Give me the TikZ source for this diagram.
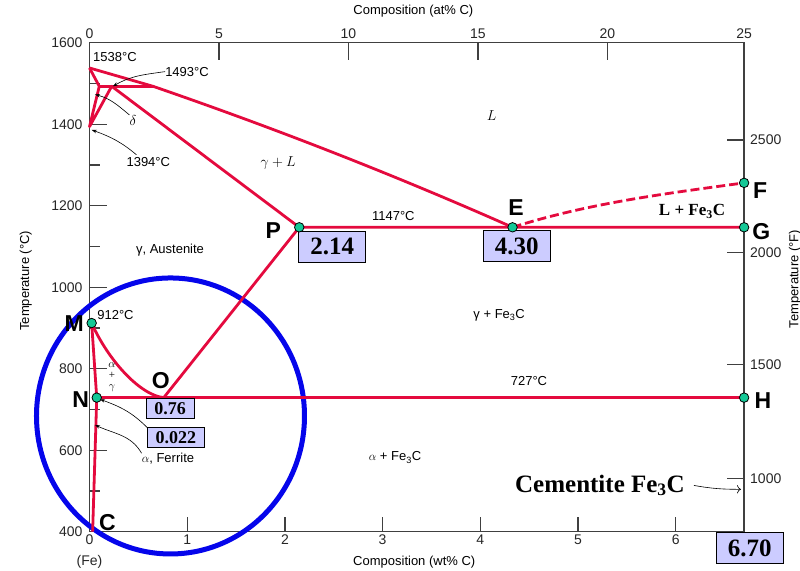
\documentclass[tikz,border=0pt]{standalone}
\usepackage{fontspec}
\setmainfont{Liberation Serif}
\setsansfont{Liberation Sans}
\usetikzlibrary{arrows.meta, positioning}
\definecolor{phasered}{RGB}{228, 10, 62}
\definecolor{ringblue}{RGB}{5, 5, 235}
\definecolor{boxlilac}{RGB}{204, 204, 255}
\definecolor{dotgreen}{RGB}{20, 200, 150}
\definecolor{axisgray}{RGB}{64, 64, 64}

\begin{document}
\begin{tikzpicture}[
  phase/.style={phasered, line width=2.8pt, line join=round},
  ptdot/.style={circle, draw=black, fill=dotgreen, line width=0.8pt, minimum size=9.5pt, inner sep=0pt},
  bigletter/.style={font=\sffamily\bfseries\fontsize{23}{23}\selectfont, inner sep=0pt},
  valbox/.style={draw=black, fill=boxlilac, line width=0.9pt, inner sep=0pt, minimum width=67pt, minimum height=31pt, font=\bfseries\fontsize{25}{25}\selectfont},
  smallbox/.style={valbox, minimum width=48pt, minimum height=19.5pt, font=\bfseries\fontsize{18}{18}\selectfont},
  lbl/.style={font=\sffamily\fontsize{13}{13}\selectfont, inner sep=0pt},
  mathlbl/.style={lbl, font=\sffamily\fontsize{15}{15}\selectfont},
  ticklbl/.style={font=\sffamily\fontsize{14}{14}\selectfont, inner sep=1pt, text=black!85},
  axisline/.style={axisgray, line width=1.3pt},
  note/.style={black, line width=0.6pt, -{Stealth[length=5pt, width=3.5pt]}},
]
\useasboundingbox (0,0) rectangle (800pt,570pt);
\begin{scope}[x=97.7pt, y=0.4075pt, shift={(89.5pt,-124.7pt)}]
  % Frame and ticks
  \draw[axisline] (0,400) rectangle (6.7,1600);
  \foreach \tc in {600,800,...,1400} \draw[axisline] (0,\tc) -- ++(17pt,0);
  \foreach \tc in {500,700,...,1500} \draw[axisline] (0,\tc) -- ++(10pt,0);
  \foreach \tc in {400,600,...,1600} \node[ticklbl, anchor=east] (yl\tc) at (-0.06,\tc) {\tc};
  \foreach \w in {1,...,6} \draw[axisline] (\w,400) -- ++(0,15pt);
  \foreach \w in {0,...,6} \node[ticklbl, anchor=north] (xl\w) at (\w,395) {\w};
  \foreach \a/\w in {5/1.325, 10/2.65, 15/3.975, 20/5.3} \draw[axisline] (\w,1600) -- ++(0,-17pt);
  \foreach \a/\w in {0/0, 5/1.325, 10/2.65, 15/3.975, 20/5.3, 25/6.7} \node[ticklbl, anchor=south] (al\a) at (\w,1608) {\a};
  \foreach \tc in {1361,1085,811,531} \draw[axisline] (6.7,\tc) -- ++(-17pt,0);
  \foreach \tc/\f in {1361/2500, 1085/2000, 811/1500, 531/1000} \node[ticklbl, anchor=west] (fl\f) at (6.75,\tc) {\f};
  % Axis titles
  \node[ticklbl] (tFe) at (0,326) {(Fe)};
  \node[lbl] (xlabbot) at (3.324,326) {Composition (wt\% C)};
  \node[lbl] (xlabtop) at (3.315,1677) {Composition (at\% C)};
  \node[lbl, rotate=90] (ylabC) at (-0.652,1016) {Temperature (°C)};
  \node[lbl, rotate=90] (ylabF) at (7.22,1020) {Temperature (°F)};
  % Ring round the steel corner
  \coordinate (ringc) at (0.829,684);
  \draw[ringblue, line width=5pt] (ringc) ellipse [x radius=134pt, y radius=138pt];
  % Phase boundaries
  \coordinate (Fe1538) at (0,1538);
  \coordinate (Fe1394) at (0,1394);
  \coordinate (dL) at (0.10,1493);
  \coordinate (peri) at (0.227,1493);
  \coordinate (Lp) at (0.65,1493);
  \coordinate (M) at (0.022,912);
  \coordinate (N) at (0.074,729);
  \coordinate (O) at (0.76,729);
  \coordinate (P) at (2.147,1147);
  \coordinate (E) at (4.33,1147);
  \coordinate (F) at (6.7,1256);
  \coordinate (G) at (6.7,1147);
  \coordinate (H) at (6.7,729);
  \coordinate (Cbot) at (0.032,400);
  \draw[phase] (Fe1538) -- (dL) -- (Fe1394) -- (peri) -- (P) -- (G);
  \draw[phase] (dL) -- (Lp);
  \draw[phase] (Fe1538) -- (Lp) .. controls (1.873,1392) and (3.097,1278) .. (E);
  \draw[phase, dash pattern=on 9pt off 4pt] (E) .. controls (5.12,1207) and (5.91,1230) .. (F);
  \draw[phase] (M) .. controls (0.19,821) and (0.517,735) .. (O) -- (P);
  \draw[phase] (M) -- (N) -- (Cbot);
  \draw[phase] (N) -- (H);
  % Value boxes
  \node[valbox] (b214) at (2.485,1099) {2.14};
  \node[valbox] (b430) at (4.373,1101) {4.30};
  \node[smallbox] (b076) at (0.826,702) {0.76};
  \node[smallbox, minimum width=57pt] (b0022) at (0.885,631) {0.022};
  \node[valbox] (b670) at (6.757,360) {6.70};
  % Points
  \foreach \p in {M,N,P,E,F,G,H} \node[ptdot] (dot\p) at (\p) {};
  \node[bigletter] (tM) at (-0.157,910) {M};
  \node[bigletter] (tN) at (-0.089,723) {N};
  \node[bigletter] (tO) at (0.73,772) {O};
  \node[bigletter] (tC) at (0.184,423) {C};
  \node[bigletter] (tP) at (1.881,1140) {P};
  \node[bigletter] (tE) at (4.365,1196) {E};
  \node[bigletter] (tF) at (6.863,1236) {F};
  \node[bigletter] (tG) at (6.876,1137) {G};
  \node[bigletter] (tH) at (6.894,722) {H};
  % Temperatures and fields
  \node[lbl] (t1538) at (0.261,1564) {1538°C};
  \node[lbl] (t1493) at (0.998,1529) {1493°C};
  \node[lbl] (t1394) at (0.602,1306) {1394°C};
  \node[lbl] (t912) at (0.266,932) {912°C};
  \node[lbl] (t1147) at (3.11,1174) {1147°C};
  \node[lbl] (t727) at (4.498,770) {727°C};
  \node[mathlbl] (tdelta) at (0.445,1410) {$\delta$};
  \node[mathlbl, anchor=base] (tL) at (4.117,1410) {$L$};
  \node[mathlbl, anchor=base] (tgL) at (1.932,1296) {$\gamma+L$};
  \node[lbl, anchor=base] (tAust) at (0.824,1083) {γ, Austenite};
  \node[lbl, anchor=base] (tgFe) at (4.193,924) {γ + Fe\textsubscript{3}C};
  \node[lbl, anchor=base] (taFe) at (3.127,574) {$\alpha$ + Fe\textsubscript{3}C};
  \node[lbl, anchor=base] (tFerr) at (0.803,569) {$\alpha$, Ferrite};
  \node[lbl, align=center, font=\fontsize{11}{11}\selectfont] (tag) at (0.23,780) {$\alpha$\\+\\$\gamma$};
  \node[font=\bfseries\fontsize{17}{17}\selectfont, anchor=base, inner sep=0pt] (tLFe) at (6.167,1175) {L + Fe\textsubscript{3}C};
  \node[font=\bfseries\fontsize{25}{25}\selectfont, anchor=base, inner sep=1pt] (tCem) at (5.225,497) {Cementite Fe\textsubscript{3}C};
  % Pointers
  \coordinate (a1493) at (0.24,1493);
  \coordinate (adelta) at (0.056,1473);
  \coordinate (a1394) at (0.0225,1386);
  \coordinate (aN) at (0.107,725);
  \coordinate (aFerr) at (0.056,662);
  \coordinate (aCem) at (6.668,504);
  \draw[note] (t1493.west) to[out=188, in=30] (a1493);
  \draw[note] (tdelta.north west) to[out=140, in=-15] (adelta);
  \draw[note] ([xshift=10pt, yshift=3pt]t1394.north west) to[out=140, in=-20] (a1394);
  \draw[note] (b0022.north west) to[out=135, in=-20] (aN);
  \draw[note] (tFerr.north west) to[out=120, in=-25] (aFerr);
  \draw[note, -{To[length=4pt]}] ([xshift=8pt]tCem.east) to[out=-10, in=180] (aCem);
\end{scope}
\end{tikzpicture}
\end{document}
